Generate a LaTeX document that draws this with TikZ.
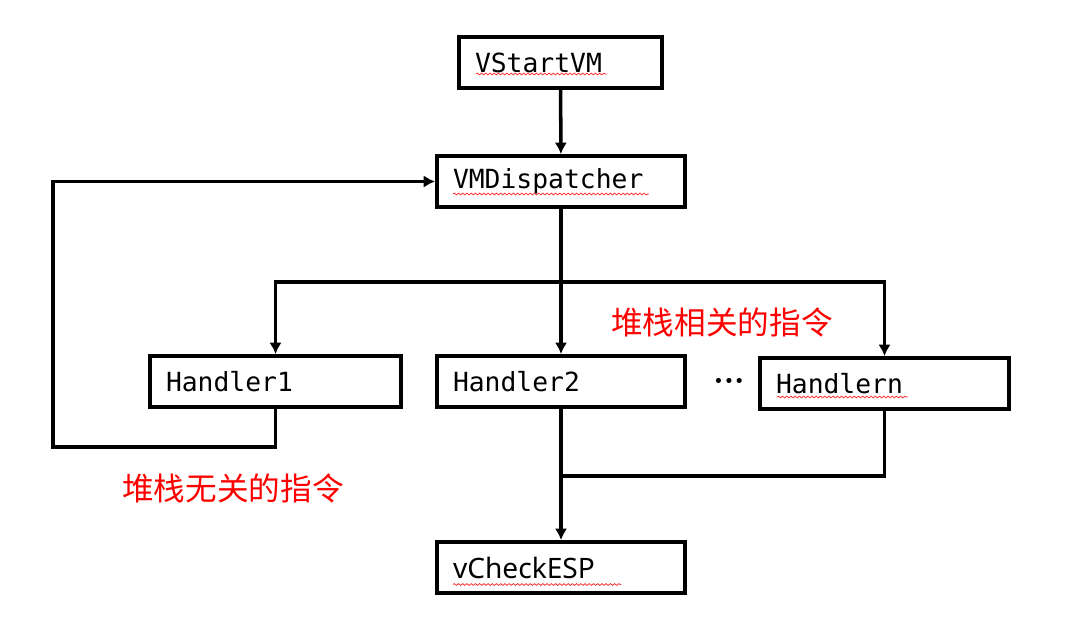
\documentclass[tikz,border=0pt]{standalone}
\usepackage{fontspec}
\usetikzlibrary{arrows.meta}
\usetikzlibrary{decorations.pathmorphing}
\newfontfamily\codefont{DejaVu Sans Mono}
\newfontfamily\plainfont{Noto Sans}
\newfontfamily\dotfont{DejaVu Sans}
\newfontfamily\cjkfont{Noto Sans CJK SC}
\definecolor{notered}{rgb}{1,0,0}

\tikzset{
  block/.style={draw,line width=2.2pt,minimum height=1.02cm,inner xsep=0.32cm,
    align=left,font=\codefont\fontsize{15}{18}\selectfont},
  flow/.style={line width=2pt},
  tip/.style={-{Latex[length=6.5pt,width=7pt]}},
  note/.style={text=notered,font=\cjkfont\fontsize{18}{22}\selectfont},
  squiggle/.style={decorate,decoration={snake,amplitude=0.5pt,segment length=2.4pt},
    notered!80,line width=0.45pt}
}

\begin{document}
\begin{tikzpicture}
\useasboundingbox (0,0) rectangle (21.46,12.58);

% the boxes
\node [block,text width=3.42cm] (start) at (11.21,11.33) {VStartVM};
\node [block,text width=4.32cm] (disp)  at (11.22,8.95)  {VMDispatcher};
\node [block,text width=4.38cm] (h1)    at (5.51,4.95)   {Handler1};
\node [block,text width=4.32cm] (h2)    at (11.22,4.95)  {Handler2};
\node [block,text width=4.34cm] (hn)    at (17.69,4.91)  {Handlern};
\node [block,text width=4.32cm,font=\plainfont\fontsize{16}{19}\selectfont]
      (check) at (11.22,1.23) {vCheckESP};

\node [font=\dotfont\fontsize{10}{12}\selectfont,inner sep=0pt] (dots) at (14.58,4.92) {•••};

% spell check lines
\draw [squiggle] (9.52,11.10) -- (12.14,11.10);
\draw [squiggle] (9.06,8.70) -- (12.98,8.70);
\draw [squiggle] (15.54,4.64) -- (18.16,4.64);
\draw [squiggle] (9.06,0.89) -- (12.42,0.89);

% connectors
\coordinate (split) at (11.22,6.94);
\coordinate (loop)  at (1.06,3.64);
\coordinate (merge) at (11.22,3.06);

\draw [flow,tip] (start) -- (disp);
\draw [flow] (disp) -- (split);
\draw [flow,tip] (split) -| (h1);
\draw [flow,tip] (split) -- (h2);
\draw [flow,tip] (split) -| (hn);

\draw [flow,tip] (h1.south) |- (loop) |- (disp.west);

\draw [flow,tip] (h2) -- (check);
\draw [flow] (hn.south) |- (merge);

% some text
\node [note] (near) at (14.44,6.14) {堆栈相关的指令};
\node [note] (far)  at (4.66,2.82)  {堆栈无关的指令};

\end{tikzpicture}
\end{document}
